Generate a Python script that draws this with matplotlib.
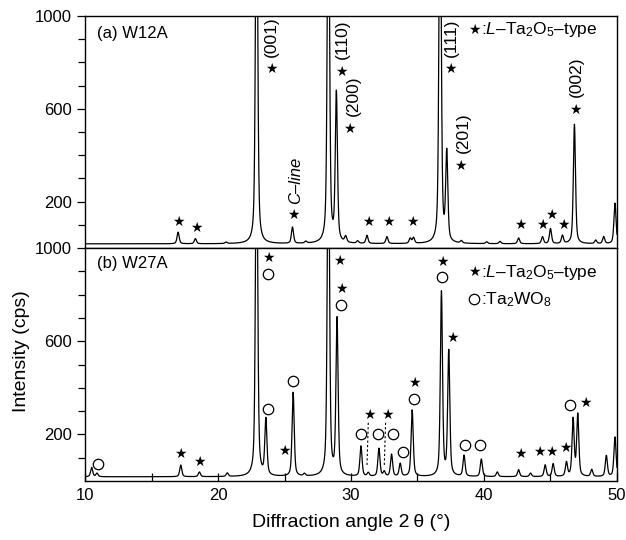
import numpy as np
import matplotlib
matplotlib.use('Agg')
from matplotlib import pyplot as plt

plt.rcParams['font.family'] = ['Liberation Sans', 'DejaVu Sans']
plt.rcParams['mathtext.fontset'] = 'custom'
plt.rcParams['mathtext.rm'] = 'Liberation Sans'
plt.rcParams['mathtext.it'] = 'Liberation Sans:italic'

# --- data (2theta in deg, intensity in cps) ---
# (a) W12A peaks
a_pos = [17.0, 18.3, 20.6, 22.9, 25.6, 26.6, 28.3, 28.9, 29.6, 30.5, 31.2, 32.7,
         34.45, 34.7, 36.7, 37.2, 38.3, 40.2, 41.2, 42.6, 44.4, 45.0, 45.9,
         46.8, 48.4, 49.0, 49.85]
a_height = [50, 22, 6, 1800, 70, 8, 1800, 640, 25, 10, 35, 30,
            22, 25, 1800, 380, 10, 8, 10, 25, 30, 65, 35,
            515, 15, 30, 175]
a_base = 18

# (b) W27A peaks
b_pos = [10.5, 10.9, 17.2, 18.6, 20.7, 22.9, 23.6, 25.65, 26.5, 28.3, 28.95,
         30.75, 31.3, 32.1, 32.5, 33.05, 33.7, 34.6, 36.8, 37.35, 38.5, 39.8,
         41.0, 42.6, 43.5, 44.6, 45.2, 46.2, 46.7, 47.05, 48.1, 49.2, 49.85]
b_height = [40, 15, 50, 20, 15, 1600, 240, 360, 10, 1600, 670,
            130, 15, 120, 20, 95, 55, 285, 790, 535, 90, 75,
            20, 30, 15, 50, 55, 60, 245, 265, 30, 90, 170]
b_base = 18

# annotation positions (data coords)
a_hkl = ['(001)', '(110)', '(200)', '(111)', '(201)', '(002)']
a_hkl_star = [(24.0, 770), (29.3, 760), (29.85, 515), (37.5, 770), (38.2, 355), (46.9, 595)]
a_hkl_dx = [0.05, 0.05, 0.35, 0.05, 0.25, 0.05]
a_small_star = [(17.0, 112), (18.35, 86), (25.7, 142), (31.3, 112), (32.8, 112),
                (34.6, 112), (42.7, 99), (44.4, 99), (45.05, 142), (45.95, 99)]

b_star = [(17.2, 116), (18.6, 82), (23.75, 957), (25.0, 129), (29.1, 944),
          (29.25, 824), (31.4, 283), (32.7, 283), (34.8, 421), (36.85, 940),
          (37.6, 614), (42.7, 116), (44.15, 124), (45.1, 124), (46.1, 142),
          (47.6, 335)]
b_circle = [(11.0, 73), (23.75, 888), (23.75, 309), (25.64, 429), (29.25, 755),
            (30.75, 202), (32.0, 202), (33.15, 202), (33.9, 124), (34.7, 352),
            (36.85, 876), (38.6, 155), (39.7, 155), (46.5, 326)]


def pattern(x, pos, height, base, fwhm=0.19, eta=0.5):
    y = np.full_like(x, float(base))
    for p, h in zip(pos, height):
        g = np.exp(-4 * np.log(2) * ((x - p) / fwhm) ** 2)
        l = 1 / (1 + 4 * ((x - p) / fwhm) ** 2)
        y += h * (eta * l + (1 - eta) * g)
    return y


x = np.linspace(10, 50, 4001)
ya = pattern(x, a_pos, a_height, a_base)
yb = pattern(x, b_pos, b_height, b_base)

fig = plt.figure(figsize=(6.26, 5.40), dpi=100)
ax1 = fig.add_axes([0.1358, 0.5407, 0.8498, 0.4297])
ax2 = fig.add_axes([0.1358, 0.1093, 0.8498, 0.4314])

for ax, y in ((ax1, ya), (ax2, yb)):
    ax.plot(x, y, color='black', lw=0.9)
    ax.set_xlim(10, 50)
    ax.set_ylim(0, 1000)
    ax.set_yticks([200, 600, 1000])
    ax.set_yticks([100, 300, 400, 500, 700, 800, 900], minor=True)
    ax.tick_params(axis='y', which='major', direction='out', length=6, width=0.9, labelsize=12)
    ax.tick_params(axis='y', which='minor', direction='out', length=5, width=0.9)
    for s in ax.spines.values():
        s.set_linewidth(1.0)

ax1.set_xticks([])
ax1.tick_params(axis='x', which='both', bottom=False, labelbottom=False)
ax2.set_xticks([10, 20, 30, 40, 50])
ax2.set_xticks([15, 25, 35, 45], minor=True)
ax2.tick_params(axis='x', which='both', direction='in', length=6, width=0.9,
                labelsize=12, pad=5)

ax2.set_xlabel('Diffraction angle 2\u2009θ (°)', fontsize=14, labelpad=8)
fig.text(0.035, 0.35, 'Intensity (cps)', rotation=90, fontsize=14, va='center', ha='center')

star_kw = dict(fontsize=10, ha='center', va='center', family='DejaVu Sans')

# panel (a)
ax1.text(10.9, 925, '(a) W12A', fontsize=12, va='center')
for (sx, sy), dx, lab in zip(a_hkl_star, a_hkl_dx, a_hkl):
    ax1.text(sx, sy, '★', **star_kw)
    ax1.text(sx + dx, sy + 55, lab, rotation=90, fontsize=12.5, ha='center', va='bottom')
for sx, sy in a_small_star:
    ax1.text(sx, sy, '★', **star_kw)
ax1.text(25.8, 190, 'C–line', rotation=90, fontsize=12, style='italic', ha='center', va='bottom')
ax1.text(39.3, 940, '★', **star_kw)
ax1.text(39.75, 940, r':$\mathit{L}$–Ta$_2$O$_5$–type', fontsize=12.5, va='center')

# panel (b)
ax2.text(10.9, 935, '(b) W27A', fontsize=12, va='center')
for sx, sy in b_star:
    ax2.text(sx, sy, '★', **star_kw)
cx, cy = zip(*b_circle)
ax2.plot(cx, cy, ls='none', marker='o', ms=7.5, mfc='white', mec='black', mew=0.9, zorder=3)
ax2.plot([31.3, 31.2], [250, 60], ls=(0, (2, 2)), color='black', lw=0.8)
ax2.plot([32.6, 32.5], [250, 60], ls=(0, (2, 2)), color='black', lw=0.8)
ax2.text(39.3, 897, '★', **star_kw)
ax2.text(39.75, 897, r':$\mathit{L}$–Ta$_2$O$_5$–type', fontsize=12.5, va='center')
ax2.plot([39.25], [780], ls='none', marker='o', ms=7.5, mfc='white', mec='black', mew=0.9)
ax2.text(39.75, 780, ':Ta$_2$WO$_8$', fontsize=12.5, va='center')

fig.savefig('out.png', dpi=100)
